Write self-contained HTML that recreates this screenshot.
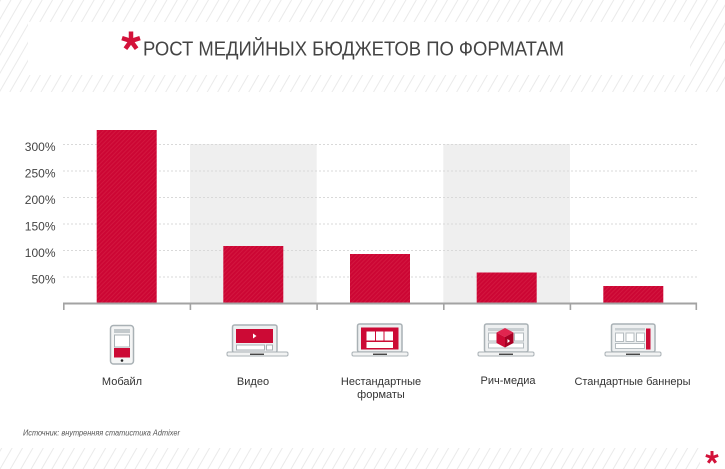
<!DOCTYPE html>
<html><head><meta charset="utf-8"><style>
html,body{margin:0;padding:0;background:#fff;}
svg{display:block;}
text{font-family:"Liberation Sans","DejaVu Sans",sans-serif;}
</style></head><body>
<svg width="725" height="469" viewBox="0 0 725 469" xmlns="http://www.w3.org/2000/svg">
<defs>
<pattern id="hatch" patternUnits="userSpaceOnUse" width="9" height="9" patternTransform="rotate(30)">
<rect x="0" y="0" width="1" height="9" fill="#eaeaea"/>
</pattern>
<pattern id="barh" patternUnits="userSpaceOnUse" width="3" height="3" patternTransform="rotate(45)">
<rect width="3" height="3" fill="#cc0634"/>
<rect x="0" y="0" width="1" height="3" fill="#d3173f"/>
</pattern>
</defs>

<!-- header hatch -->
<rect x="0" y="0" width="725" height="92" fill="url(#hatch)"/>
<rect x="28" y="22" width="662" height="53" fill="#fff"/>
<!-- title asterisk -->
<g stroke="#d3123a" stroke-width="4.5" stroke-linecap="butt" transform="translate(131,41)">
<line x1="0" y1="0" x2="0" y2="-9.5"/>
<line x1="0" y1="0" x2="9" y2="-2.9"/>
<line x1="0" y1="0" x2="-9" y2="-2.9"/>
<line x1="0" y1="0" x2="5.6" y2="7.7"/>
<line x1="0" y1="0" x2="-5.6" y2="7.7"/>
</g>
<text x="143" y="55.5" font-size="20.5" fill="#444" textLength="421" lengthAdjust="spacingAndGlyphs">РОСТ МЕДИЙНЫХ БЮДЖЕТОВ ПО ФОРМАТАМ</text>

<!-- bands -->
<rect x="190" y="144" width="126.7" height="159" fill="#efefef"/>
<rect x="443.3" y="144" width="126.7" height="159" fill="#efefef"/>

<!-- gridlines -->
<g stroke="#d9d9d9" stroke-width="1" stroke-dasharray="2 2">
<line x1="63" y1="144.5" x2="697" y2="144.5"/>
<line x1="63" y1="171" x2="697" y2="171"/>
<line x1="63" y1="197.5" x2="697" y2="197.5"/>
<line x1="63" y1="224" x2="697" y2="224"/>
<line x1="63" y1="250.5" x2="697" y2="250.5"/>
<line x1="63" y1="277" x2="697" y2="277"/>
</g>

<!-- y labels -->
<g font-size="12" fill="#444" text-anchor="end">
<text x="55.5" y="151">300%</text>
<text x="55.5" y="177.5">250%</text>
<text x="55.5" y="204">200%</text>
<text x="55.5" y="230.5">150%</text>
<text x="55.5" y="257">100%</text>
<text x="55.5" y="283.5">50%</text>
</g>

<!-- bars -->
<rect x="96.7" y="130" width="60" height="173" fill="url(#barh)"/>
<rect x="223.3" y="246" width="60" height="57" fill="url(#barh)"/>
<rect x="350" y="254" width="60" height="49" fill="url(#barh)"/>
<rect x="476.7" y="272.5" width="60" height="30.5" fill="url(#barh)"/>
<rect x="603.3" y="286" width="60" height="17" fill="url(#barh)"/>

<!-- axis -->
<rect x="63" y="302.5" width="634" height="2" fill="#a3a3a3"/>
<g fill="#a3a3a3">
<rect x="63" y="302.5" width="1.6" height="7.5"/>
<rect x="189.6" y="302.5" width="1.6" height="7.5"/>
<rect x="316.3" y="302.5" width="1.6" height="7.5"/>
<rect x="443" y="302.5" width="1.6" height="7.5"/>
<rect x="569.6" y="302.5" width="1.6" height="7.5"/>
<rect x="695.5" y="302.5" width="1.6" height="7.5"/>
</g>

<!-- mobile icon -->
<rect x="110.5" y="325.5" width="23" height="38.5" rx="3" fill="#f4f5f5" stroke="#a9b1b5" stroke-width="1.5"/>
<rect x="114" y="329" width="16" height="4" fill="#c3c9cc"/>
<rect x="114.5" y="335" width="15" height="12" fill="#fff" stroke="#a9b1b5" stroke-width="1"/>
<rect x="114" y="348" width="16" height="9.5" fill="#cc0a35"/>
<circle cx="122" cy="360.5" r="1.3" fill="#222"/>

<!-- video -->
<g>
<rect x="232.5" y="325" width="44.5" height="27.5" rx="2" fill="#eef0f1" stroke="#a9b1b5" stroke-width="1.5"/>
<rect x="227" y="352" width="61" height="4" rx="1.5" fill="#f2f3f3" stroke="#a9b1b5" stroke-width="1"/>
<rect x="250" y="353.6" width="14" height="1.3" fill="#333"/>
<rect x="236" y="329" width="37" height="14" fill="#cc0a35"/>
<polygon points="253,333.5 253,338.5 256.5,336" fill="#fff"/>
<rect x="236.5" y="345" width="28" height="5" fill="#fff" stroke="#a9b1b5" stroke-width="1"/>
<rect x="266.5" y="345" width="6" height="5" fill="#fff" stroke="#a9b1b5" stroke-width="1"/>
</g>

<!-- nonstandard -->
<g>
<rect x="357.5" y="324" width="44.5" height="28" rx="2" fill="#eef0f1" stroke="#a9b1b5" stroke-width="1.5"/>
<rect x="352" y="352" width="56" height="4" rx="1.5" fill="#f2f3f3" stroke="#a9b1b5" stroke-width="1"/>
<rect x="373" y="353.6" width="14" height="1.3" fill="#333"/>
<rect x="361" y="327.5" width="37.5" height="22" fill="#cc0a35"/>
<rect x="366.5" y="331.5" width="8.5" height="9" fill="#fff"/>
<rect x="376" y="331.5" width="7.5" height="9" fill="#fff"/>
<rect x="384.5" y="331.5" width="8.5" height="9" fill="#fff"/>
<rect x="366.5" y="342" width="26.5" height="6" fill="#fff"/>
</g>

<!-- rich media -->
<g>
<rect x="484.5" y="324" width="43.5" height="28" rx="2" fill="#eef0f1" stroke="#a9b1b5" stroke-width="1.5"/>
<rect x="478" y="352" width="56" height="4" rx="1.5" fill="#f2f3f3" stroke="#a9b1b5" stroke-width="1"/>
<rect x="499" y="353.6" width="14" height="1.3" fill="#333"/>
<rect x="488" y="328" width="36" height="3" fill="#c9cfd2"/>
<rect x="488.5" y="333" width="9" height="8" fill="#fff" stroke="#b5bcc0" stroke-width="1"/>
<rect x="514.5" y="333" width="9" height="8" fill="#fff" stroke="#b5bcc0" stroke-width="1"/>
<rect x="488.5" y="343" width="35" height="5" fill="#fff" stroke="#b5bcc0" stroke-width="1"/>
<polygon points="505,328 513.5,332.5 505,337 496.5,332.5" fill="#e0254f"/>
<polygon points="496.5,332.5 505,337 505,347.5 496.5,343" fill="#cc0a35"/>
<polygon points="505,337 513.5,332.5 513.5,343 505,347.5" fill="#a80024"/>
<polygon points="507.5,339 507.5,343 510,341" fill="#fff"/>
</g>

<!-- standard banners -->
<g>
<rect x="611.5" y="324" width="43.5" height="28" rx="2" fill="#eef0f1" stroke="#a9b1b5" stroke-width="1.5"/>
<rect x="605" y="352" width="56" height="4" rx="1.5" fill="#f2f3f3" stroke="#a9b1b5" stroke-width="1"/>
<rect x="626" y="353.6" width="14" height="1.3" fill="#333"/>
<rect x="615" y="328" width="30" height="2.5" fill="#c9cfd2"/>
<rect x="615.5" y="333" width="8" height="8.5" fill="#fff" stroke="#b5bcc0" stroke-width="1"/>
<rect x="626" y="333" width="8" height="8.5" fill="#fff" stroke="#b5bcc0" stroke-width="1"/>
<rect x="636.5" y="333" width="8" height="8.5" fill="#fff" stroke="#b5bcc0" stroke-width="1"/>
<rect x="615.5" y="343.5" width="29" height="5" fill="#fff" stroke="#b5bcc0" stroke-width="1"/>
<rect x="646" y="328.5" width="4.5" height="21" fill="#cc0a35"/>
</g>

<!-- category labels -->
<g font-size="11" fill="#333" text-anchor="middle">
<text x="122" y="385">Мобайл</text>
<text x="253" y="385">Видео</text>
<text x="381" y="385">Нестандартные</text>
<text x="381" y="398">форматы</text>
<text x="508" y="384">Рич-медиа</text>
<text x="632.5" y="385">Стандартные баннеры</text>
</g>

<!-- footer -->
<text x="23" y="435.5" font-size="8.5" font-style="italic" fill="#555" textLength="157" lengthAdjust="spacingAndGlyphs">Источник: внутренняя статистика Admixer</text>
<rect x="0" y="448" width="700" height="21" fill="url(#hatch)"/>
<g stroke="#d3123a" stroke-width="3" transform="translate(712,457.5)">
<line x1="0" y1="0" x2="0" y2="-6.5"/>
<line x1="0" y1="0" x2="6.2" y2="-2"/>
<line x1="0" y1="0" x2="-6.2" y2="-2"/>
<line x1="0" y1="0" x2="3.8" y2="5.3"/>
<line x1="0" y1="0" x2="-3.8" y2="5.3"/>
</g>
</svg>
</body></html>
